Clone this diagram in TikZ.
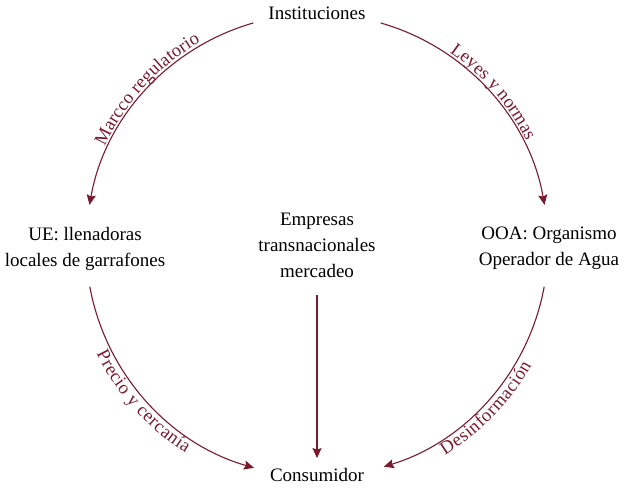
\documentclass[tikz,border=0pt]{standalone}
\usepackage{fontspec}
\setmainfont{Liberation Serif}
\usetikzlibrary{arrows.meta,decorations.text,calc}
\definecolor{dred}{RGB}{122,26,46}
\newcommand\lblfont{\fontsize{18.5}{18.5}\selectfont}
\begin{document}
\begin{tikzpicture}[x=1pt,y=1pt,
  box/.style={font=\fontsize{19}{26}\selectfont, align=center, inner sep=0pt, text=black},
  conn/.style={draw=dred, line width=1.1pt, -{Stealth[length=10pt,width=9pt,inset=1.5pt]}},
  lbl/.style={decorate, decoration={text along path, text align=center, text color=dred}}
]
\useasboundingbox (0,0) rectangle (635,493);
\coordinate (C) at (317,248);
% nodes
\node[box] (inst) at (317,480) {Instituciones};
\node[box] (ue) at (85,244.5) {UE: llenadoras\\locales de garrafones};
\node[box] (emp) at (317,247.5) {Empresas\\transnacionales\\mercadeo};
\node[box] (ooa) at (549,244.5) {OOA: Organismo\\Operador de Agua};
\node[box] (cons) at (317,18) {Consumidor};
% arc end points
\coordinate (a1s) at ($(C)+(106:231)$);
\coordinate (a2s) at ($(C)+(74:231)$);
\coordinate (a3s) at ($(C)+(190.4:231)$);
\coordinate (a4s) at ($(C)+(349.6:231)$);
% connectors
\draw[conn] (a1s) arc[start angle=106,end angle=170,radius=231];
\draw[conn] (a2s) arc[start angle=74,end angle=10,radius=231];
\draw[conn] (a3s) arc[start angle=190.4,end angle=254,radius=232];
\draw[conn] (a4s) arc[start angle=349.6,end angle=287,radius=232];
\draw[conn, shorten <=17pt, shorten >=10pt] (emp.south) -- (cons.north);
% labels
\coordinate (l1) at ($(C)+(172.5:231)$);
\coordinate (l2) at ($(C)+(71:231)$);
\coordinate (l3) at ($(C)+(192:231)$);
\coordinate (l4) at ($(C)+(286:231)$);
\path[lbl, decoration={raise=3pt, text={|\lblfont|Marcco regulatorio}}] (l1) arc[start angle=172.5,end angle=102.5,radius=231];
\path[lbl, decoration={raise=3pt, text={|\lblfont|Leyes y normas}}] (l2) arc[start angle=71,end angle=11,radius=231];
\path[lbl, decoration={raise=-15pt, text={|\lblfont|Precio y cercanía}}] (l3) arc[start angle=192,end angle=252,radius=231];
\path[lbl, decoration={raise=-15pt, text={|\lblfont|Desinformación}}] (l4) arc[start angle=286,end angle=346,radius=231];
\end{tikzpicture}
\end{document}
